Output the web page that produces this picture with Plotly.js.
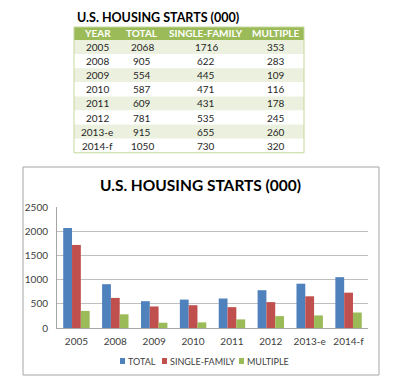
<!DOCTYPE html>
<html>
<head>
<meta charset="utf-8">
<script src="https://cdn.plot.ly/plotly-3.0.1.min.js"></script>
<style>html,body{margin:0;padding:0;background:#fff;}#chart{width:400px;height:385px;}</style>
</head>
<body>
<div id="chart"></div>
<script>
var years = ["2005", "2008", "2009", "2010", "2011", "2012", "2013-e", "2014-f"];
var total = [2068, 905, 554, 587, 609, 781, 915, 1050];
var singleFamily = [1716, 622, 445, 471, 431, 535, 655, 730];
var multiple = [353, 283, 109, 116, 178, 245, 260, 320];
var headers = ["YEAR", "TOTAL", "SINGLE-FAMILY", "MULTIPLE"];
var seriesNames = ["TOTAL", "SINGLE-FAMILY", "MULTIPLE"];
var titleText = "U.S. HOUSING STARTS (000)";

var W = 400, H = 385;
function px(x) { return x / W; }
function py(y) { return 1 - y / H; }
var font = "Lato, 'Open Sans', sans-serif";

var shapes = [];
var annotations = [];

// ---- table (drawn with shapes + text annotations built from the arrays) ----
var tLeft = 74, tRight = 304, hTop = 27, hBot = 40, rowH = 14.1;
var colCenters = [97, 142, 206, 276];
var columns = [years, total, singleFamily, multiple];

shapes.push({ type: "rect", xref: "paper", yref: "paper", x0: px(tLeft), x1: px(tRight),
  y0: py(hBot), y1: py(hTop), line: { width: 0 }, fillcolor: "#9bbb59", layer: "below" });
years.forEach(function (_, i) {
  var top = hBot + i * rowH;
  shapes.push({ type: "rect", xref: "paper", yref: "paper", x0: px(tLeft), x1: px(tRight),
    y0: py(top + rowH), y1: py(top), line: { width: 0 },
    fillcolor: i % 2 === 0 ? "#ebf1de" : "#ffffff", layer: "below" });
});
shapes.push({ type: "rect", xref: "paper", yref: "paper", x0: px(tLeft), x1: px(tRight),
  y0: py(hBot + years.length * rowH), y1: py(hTop), line: { color: "#c4d79b", width: 1 },
  fillcolor: "rgba(0,0,0,0)", layer: "below" });

headers.forEach(function (h, c) {
  annotations.push({ text: "<b>" + h + "</b>", xref: "paper", yref: "paper",
    x: px(colCenters[c]), y: py((hTop + hBot) / 2), xanchor: "center", yanchor: "middle",
    showarrow: false, font: { family: font, size: 10, color: "#ffffff" } });
});
columns.forEach(function (col, c) {
  col.forEach(function (v, i) {
    annotations.push({ text: String(v), xref: "paper", yref: "paper",
      x: px(colCenters[c]), y: py(hBot + (i + 0.5) * rowH), xanchor: "center", yanchor: "middle",
      showarrow: false, font: { family: font, size: 10, color: "#262626" } });
  });
});
annotations.push({ text: "<b>" + titleText + "</b>", xref: "paper", yref: "paper", x: px(75), y: py(17),
  xanchor: "left", yanchor: "middle", showarrow: false,
  font: { family: font, size: 12.5, color: "#000000" } });

// ---- chart ----
var colors = ["#4f81bd", "#c0504d", "#9bbb59"];
var series = [total, singleFamily, multiple];
var bars = series.map(function (vals, i) {
  return { type: "bar", x: years, y: vals, name: seriesNames[i],
    marker: { color: colors[i] }, showlegend: false };
});

shapes.push({ type: "rect", xref: "paper", yref: "paper", x0: px(23), x1: px(379), y0: py(375), y1: py(167),
  line: { color: "#a6a6a6", width: 1 }, fillcolor: "rgba(0,0,0,0)", layer: "below" });
annotations.push({ text: "<b>" + titleText + "</b>", xref: "paper", yref: "paper", x: px(200), y: py(185),
  xanchor: "center", yanchor: "middle", showarrow: false,
  font: { family: font, size: 15.5, color: "#000000" } });

// legend: small colour key + name
var legendX = [120, 162, 239];
seriesNames.forEach(function (n, i) {
  shapes.push({ type: "rect", xref: "paper", yref: "paper",
    x0: px(legendX[i]), x1: px(legendX[i] + 5), y0: py(364), y1: py(358),
    line: { width: 0 }, fillcolor: colors[i] });
  annotations.push({ text: n, xref: "paper", yref: "paper",
    x: px(legendX[i] + 6), y: py(361), xanchor: "left", yanchor: "middle", showarrow: false,
    font: { family: font, size: 9, color: "#404040" } });
});

var layout = {
  width: W, height: H,
  margin: { l: 0, r: 0, t: 0, b: 0 },
  paper_bgcolor: "#ffffff", plot_bgcolor: "#ffffff",
  barmode: "group", bargap: 0.32, bargroupgap: 0,
  showlegend: false,
  xaxis: {
    domain: [px(57), px(368)], type: "category",
    tickfont: { family: font, size: 10, color: "#404040" },
    showline: true, linecolor: "#a6a6a6", linewidth: 1, ticks: "", ticklabelstandoff: 4
  },
  yaxis: {
    domain: [py(328), py(207)], range: [0, 2500], dtick: 500,
    tickfont: { family: font, size: 10, color: "#404040" },
    showgrid: true, gridcolor: "#bfbfbf", showline: true, linecolor: "#a6a6a6",
    zeroline: false, ticks: "", ticklabelstandoff: 6
  },
  shapes: shapes,
  annotations: annotations
};

Plotly.newPlot("chart", bars, layout, { displayModeBar: false, staticPlot: true });
</script>
</body>
</html>
